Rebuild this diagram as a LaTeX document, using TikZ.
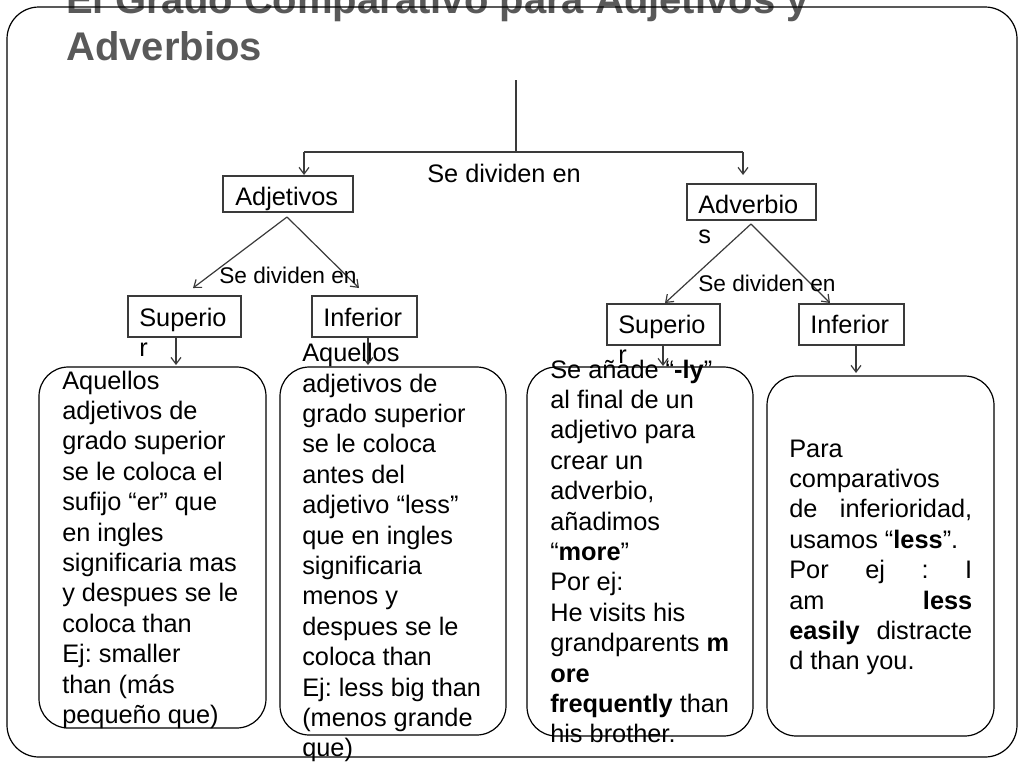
\documentclass[tikz,border=0pt]{standalone}
\usepackage{fontspec}
\setmainfont{Liberation Sans}
\usetikzlibrary{arrows.meta}
\definecolor{titlegray}{HTML}{595959}
\definecolor{linegray}{HTML}{3A3A3A}
\frenchspacing
\begin{document}
\begin{tikzpicture}[x=0.75pt,y=-0.75pt,
  conn/.style={draw=linegray, line width=0.9pt},
  arr/.style={conn, -{Straight Barb[length=5pt,width=7.5pt]}},
  sbox/.style={draw=linegray, line width=0.9pt, inner sep=0, minimum height=30.75pt},
  card/.style={draw=black, line width=0.9pt, rounded corners=22pt, inner sep=0},
  txt/.style={inner sep=0, anchor=base west, font=\fontsize{19}{22.8}\selectfont\frenchspacing},
  small/.style={inner sep=0, anchor=base west, font=\fontsize{17}{20}\selectfont},
  ttl/.style={inner sep=0, anchor=base west, text=titlegray, font=\fontsize{30}{35.25}\selectfont\bfseries}]
\useasboundingbox (0,0) rectangle (1024,768);
% title
\node[ttl] (title) at (66,13) {\parbox[t]{700pt}{\raggedright El Grado Comparativo para Adjetivos y\\Adverbios}};
% outer frame
\draw[draw=black, line width=0.9pt, rounded corners=24pt] (7,7) rectangle (1017,757);
% small boxes
\node[sbox, minimum width=97.5pt, minimum height=27pt] (adj) at (288,194) {};
\node[sbox, minimum width=96.75pt, minimum height=27pt] (adv) at (751.5,202) {};
\node[sbox, minimum width=84.75pt] (supl) at (184.5,316.5) {};
\node[sbox, minimum width=78.75pt] (infl) at (364.5,316.5) {};
\node[sbox, minimum width=84.75pt] (supr) at (663.5,324.5) {};
\node[sbox, minimum width=78.75pt] (infr) at (851.5,324.5) {};
% cards
\node[card, minimum width=170.25pt, minimum height=270.75pt] (c1) at (152.5,547.5) {};
\node[card, minimum width=169.5pt, minimum height=276pt] (c2) at (393,551) {};
\node[card, minimum width=169.5pt, minimum height=276.75pt] (c3) at (640,551.5) {};
\node[card, minimum width=170.25pt, minimum height=270pt] (c4) at (880.5,556) {};
% connector coordinates
\coordinate (top) at (516,80);
\coordinate (j) at (516,152);
\coordinate (jl) at (304,152);
\coordinate (jr) at (743,152);
\coordinate (jle) at (304,175);
\coordinate (jre) at (743,175);
\coordinate (apa) at (287,217);
\coordinate (apal) at (193,288);
\coordinate (apar) at (359,288);
\coordinate (apv) at (751,224);
\coordinate (apvl) at (665,303);
\coordinate (apvr) at (830,303);
\coordinate (s1) at (176,337);
\coordinate (s1e) at (176,365);
\coordinate (i1) at (368,337);
\coordinate (i1e) at (368,365);
\coordinate (s2) at (663,345);
\coordinate (s2e) at (663,366);
\coordinate (i2) at (856,345);
\coordinate (i2e) at (856,373);
% connectors
\draw[conn] (top) -- (j);
\draw[conn] (jl) -- (jr);
\draw[arr] (jl) -- (jle);
\draw[arr] (jr) -- (jre);
\draw[arr] (apa) -- (apal);
\draw[arr] (apa) -- (apar);
\draw[arr] (apv) -- (apvl);
\draw[arr] (apv) -- (apvr);
\draw[arr] (s1) -- (s1e);
\draw[arr] (i1) -- (i1e);
\draw[arr] (s2) -- (s2e);
\draw[arr] (i2) -- (i2e);
% labels
\node[txt] (lsd) at (427,182) {Se dividen en};
\node[txt] (ladj) at (235,205) {Adjetivos};
\node[txt] (ladv) at (698,213) {\parbox[t]{200pt}{\raggedright Adverbio\\s}};
\node[small] (lsdl) at (219,283) {Se dividen en};
\node[small] (lsdr) at (698,291) {Se dividen en};
\node[txt] (lsupl) at (139,326) {\parbox[t]{200pt}{\raggedright Superio\\r}};
\node[txt] (linfl) at (323,326) {Inferior};
\node[txt] (lsupr) at (618,333) {\parbox[t]{200pt}{\raggedright Superio\\r}};
\node[txt] (linfr) at (810,333) {Inferior};
% card texts
\node[txt] (t1) at (62,389) {\parbox[t]{300pt}{\raggedright
Aquellos\\adjetivos de\\grado superior\\se le coloca el\\sufijo “er” que\\en ingles\\significaria mas\\y despues se le\\coloca than\\Ej: smaller\\than (más\\pequeño que)}};
\node[txt] (t2) at (302,361.6) {\parbox[t]{300pt}{\raggedright
Aquellos\\adjetivos de\\grado superior\\se le coloca\\antes del\\adjetivo “less”\\que en ingles\\significaria\\menos y\\despues se le\\coloca than\\Ej: less big than\\(menos grande\\que)}};
\node[txt] (t3) at (550,378) {\parbox[t]{300pt}{\raggedright
Se añade “\textbf{-ly}”\\al final de un\\adjetivo para\\crear un\\adverbio,\\añadimos\\“\textbf{more}”\\Por ej:\\He visits his\\grandparents \textbf{m}\\\textbf{ore}\\\textbf{frequently} than\\his brother.}};
\node[txt] (t4) at (789,457) {\parbox[t]{300pt}{\raggedright
Para\\comparativos\\\makebox[137.25pt][s]{de inferioridad,}\\usamos “\textbf{less}”.\\\makebox[137.25pt][s]{Por ej : I}\\\makebox[137.25pt][s]{am \textbf{less}}\\\makebox[137.25pt][s]{\textbf{easily} distracte}\\d than you.}};
\end{tikzpicture}
\end{document}
